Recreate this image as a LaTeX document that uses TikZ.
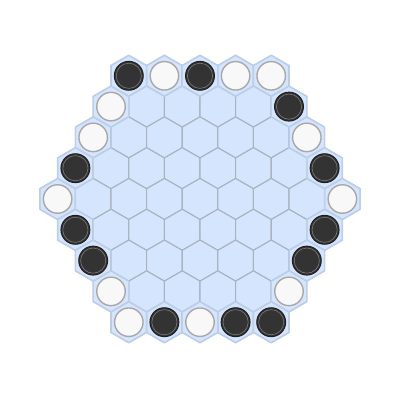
\documentclass[tikz,border=0pt]{standalone}
\definecolor{hexfill}{HTML}{D5E5FD}
\definecolor{hexline}{HTML}{A9B2C0}
\definecolor{hexedge}{HTML}{BCD0EC}
\definecolor{stoneblack}{HTML}{333333}
\definecolor{stoneblackline}{HTML}{1E1E1E}
\definecolor{stonewhite}{HTML}{F8F8F8}
\definecolor{stonewhiteline}{HTML}{A8A8A8}
\begin{document}
\begin{tikzpicture}[x=1pt,y=-1pt,
  hexcell/.style={fill=hexfill,draw=hexline,line width=1.1pt,line join=round},
  hexrim/.style={draw=hexedge,line width=1.3pt,line join=round},
  stoneb/.style={circle,minimum size=29pt,inner sep=0pt,fill=stoneblack,draw=stoneblackline,line width=0.9pt,
    path picture={\draw[color=white!35!stoneblack,line width=0.6pt] (path picture bounding box.center) circle (12.6pt);}},
  stonew/.style={circle,minimum size=28.5pt,inner sep=0pt,fill=stonewhite,draw=stonewhiteline,line width=1.4pt}]
\useasboundingbox (0,0) rectangle (402,402);
\fill[white] (0,0) rectangle (402,402);
\def\R{20.55}
% all cells
\foreach \r in {0,...,8}{
  \pgfmathtruncatemacro\n{9-abs(\r-4)}
  \foreach \c in {1,...,\n}{
    \pgfmathsetmacro\cx{200+(\c-(\n+1)/2)*35.6}
    \pgfmathsetmacro\cy{199+(\r-4)*30.8}
    \draw[hexcell,shift={(\cx,\cy)}] (90:\R) -- (30:\R) -- (-30:\R) -- (-90:\R) -- (-150:\R) -- (150:\R) -- cycle;
  }
}
% stones: row/col/colour
\foreach \r/\c/\s in {0/1/b,0/2/w,0/3/b,0/4/w,0/5/w,
  1/1/w,1/6/b, 2/1/w,2/7/w, 3/1/b,3/8/b, 4/1/w,4/9/w,
  5/1/b,5/8/b, 6/1/b,6/7/b, 7/1/w,7/6/w,
  8/1/w,8/2/b,8/3/w,8/4/b,8/5/b}{
  \pgfmathtruncatemacro\n{9-abs(\r-4)}
  \pgfmathsetmacro\cx{200+(\c-(\n+1)/2)*35.6}
  \pgfmathsetmacro\cy{199+(\r-4)*30.8}
  \draw[hexrim,shift={(\cx,\cy)}] (90:\R) -- (30:\R) -- (-30:\R) -- (-90:\R) -- (-150:\R) -- (150:\R) -- cycle;
}
\foreach \r/\c/\s in {0/1/b,0/2/w,0/3/b,0/4/w,0/5/w,
  1/1/w,1/6/b, 2/1/w,2/7/w, 3/1/b,3/8/b, 4/1/w,4/9/w,
  5/1/b,5/8/b, 6/1/b,6/7/b, 7/1/w,7/6/w,
  8/1/w,8/2/b,8/3/w,8/4/b,8/5/b}{
  \pgfmathtruncatemacro\n{9-abs(\r-4)}
  \pgfmathsetmacro\cx{200+(\c-(\n+1)/2)*35.6}
  \pgfmathsetmacro\cy{199+(\r-4)*30.8}
  \node[stone\s] (st-\r-\c) at (\cx,\cy) {};
}
\end{tikzpicture}
\end{document}
